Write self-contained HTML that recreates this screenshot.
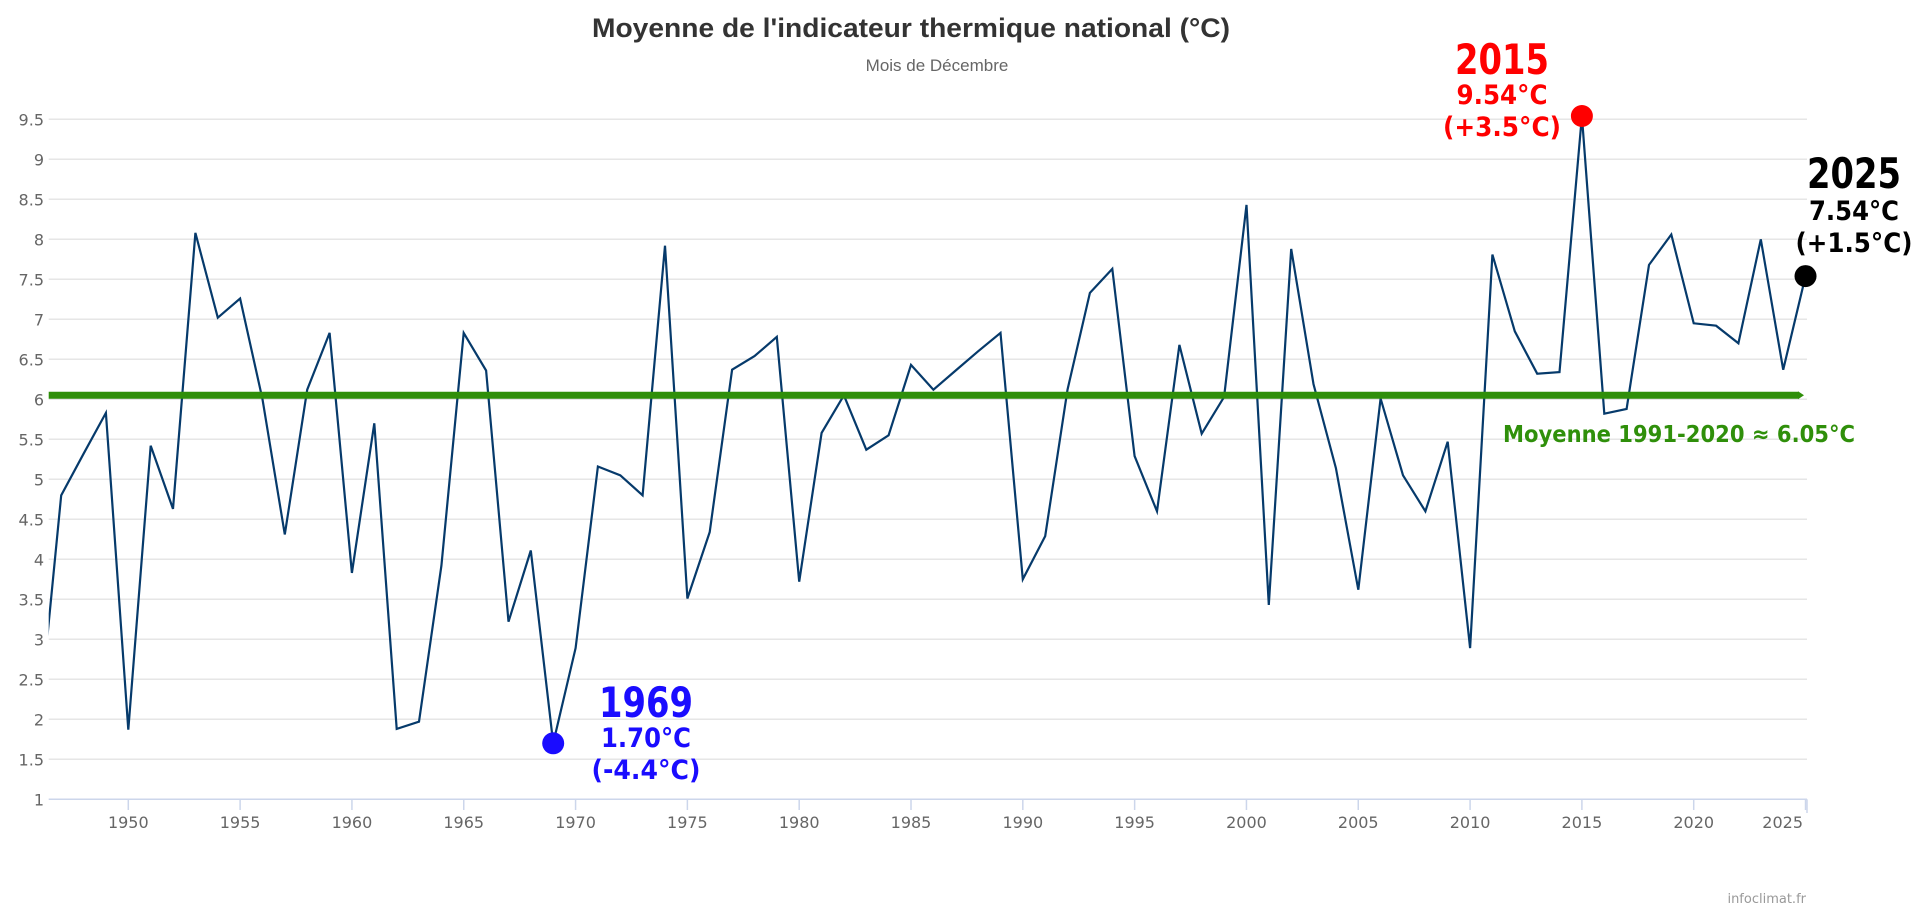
<!DOCTYPE html>
<html><head><meta charset="utf-8"><style>
html,body{margin:0;padding:0;background:#fff;width:1920px;height:911px;overflow:hidden}
svg{display:block}
</style></head><body>
<svg id="c" width="1920" height="911" xmlns="http://www.w3.org/2000/svg">
<defs><clipPath id="pc"><rect x="48.7" y="0" width="1760" height="800"/></clipPath></defs>
<g id="grid"></g>
<text x="911" y="37" text-anchor="middle" font-family="Liberation Sans, sans-serif" font-weight="bold" font-size="27" fill="#333" textLength="638" lengthAdjust="spacingAndGlyphs">Moyenne de l'indicateur thermique national (°C)</text>
<text x="937" y="71" text-anchor="middle" font-family="Liberation Sans, sans-serif" font-size="17" fill="#666">Mois de Décembre</text>
<g id="data"></g>
<text x="1806" y="903" text-anchor="end" font-family="DejaVu Sans, sans-serif" font-size="13" fill="#999">infoclimat.fr</text>
</svg>
<script>
const NS="http://www.w3.org/2000/svg";
const X=y=>128.3+(y-1950)*22.363, Y=v=>799.3-(v-1)*80;
const g=document.getElementById('grid'), d=document.getElementById('data');
function el(p,tag,a,t){const e=document.createElementNS(NS,tag);for(const k in a)e.setAttribute(k,a[k]);if(t!==undefined)e.textContent=t;p.appendChild(e);return e;}
for(let v=1.5;v<=9.5;v+=0.5){el(g,'line',{x1:48.7,x2:1807,y1:Y(v),y2:Y(v),stroke:'#e6e6e6','stroke-width':1.5});}
for(let v=1;v<=9.5;v+=0.5){el(g,'text',{x:44,y:Y(v)+6,'text-anchor':'end','font-family':'DejaVu Sans, sans-serif','font-size':16,fill:'#666'},String(v));}
el(g,'line',{x1:48.7,x2:1807,y1:799.3,y2:799.3,stroke:'#ccd6eb','stroke-width':1.5});
for(let yr=1950;yr<=2025;yr+=5){el(g,'line',{x1:X(yr),x2:X(yr),y1:799.3,y2:810,stroke:'#ccd6eb','stroke-width':1.5});
 el(g,'text',{x:yr==2025?1803:X(yr),y:828,'text-anchor':yr==2025?'end':'middle','font-family':'DejaVu Sans, sans-serif','font-size':16,fill:'#666'},String(yr));}
el(g,'line',{x1:1807,x2:1807,y1:799.3,y2:813,stroke:'#ccd6eb','stroke-width':1.5});
const vals=[1.94,4.80,5.32,5.83,1.87,5.42,4.63,8.08,7.02,7.26,6.0,4.31,6.12,6.83,3.83,5.70,1.88,1.97,3.92,6.83,6.36,3.22,4.11,1.70,2.89,5.16,5.05,4.80,7.92,3.51,4.34,6.37,6.54,6.78,3.72,5.58,6.05,5.37,5.55,6.43,6.12,6.36,6.6,6.83,3.75,4.29,6.12,7.33,7.63,5.29,4.60,6.68,5.57,6.03,8.43,3.43,7.88,6.19,5.14,3.62,6.01,5.05,4.60,5.47,2.89,7.81,6.85,6.32,6.34,9.54,5.82,5.88,7.68,8.06,6.95,6.92,6.70,8.00,6.37,7.54];
const pts=vals.map((v,i)=>X(1946+i).toFixed(1)+','+Y(v).toFixed(1)).join(' ');
el(d,'polyline',{points:pts,fill:'none',stroke:'#063a6b','stroke-width':2.2,'clip-path':'url(#pc)','stroke-linejoin':'miter'});
el(d,'line',{x1:48.7,x2:1798,y1:Y(6.05),y2:Y(6.05),stroke:'#2f8f0a','stroke-width':7});
el(d,'polygon',{points:`1798,${Y(6.05)-4} 1804,${Y(6.05)} 1798,${Y(6.05)+4}`,fill:'#2f8f0a'});
el(d,'text',{x:1503,y:442,'font-family':'DejaVu Sans, sans-serif','font-weight':'bold','font-size':23,fill:'#2f8f0a',textLength:352,lengthAdjust:'spacingAndGlyphs','xml:space':'preserve'},'Moyenne 1991-2020  \u2248 6.05\u00B0C');
el(d,'circle',{cx:X(1969),cy:Y(1.70),r:11,fill:'#1a0cff'});
el(d,'circle',{cx:X(2015),cy:116,r:11,fill:'#ff0000'});
el(d,'circle',{cx:X(2025),cy:Y(7.54),r:11,fill:'#000'});
function lab(cx,ys,txt,col){const sz=[42,27,27];
 txt.forEach((t,i)=>el(d,'text',{x:cx,y:ys[i],'text-anchor':'middle','font-family':'DejaVu Sans, sans-serif','font-weight':'bold','font-size':sz[i],fill:col,textLength:t[1],lengthAdjust:'spacingAndGlyphs'},t[0]));}
lab(1502,[74,104,136],[['2015',94],['9.54\u00B0C',91],['(+3.5\u00B0C)',118]],'#ff0000');
lab(1854,[188,220,252],[['2025',94],['7.54\u00B0C',90],['(+1.5\u00B0C)',117]],'#000');
lab(646,[717,747,779],[['1969',94],['1.70\u00B0C',90],['(-4.4\u00B0C)',109]],'#1a0cff');
</script>
</body></html>
